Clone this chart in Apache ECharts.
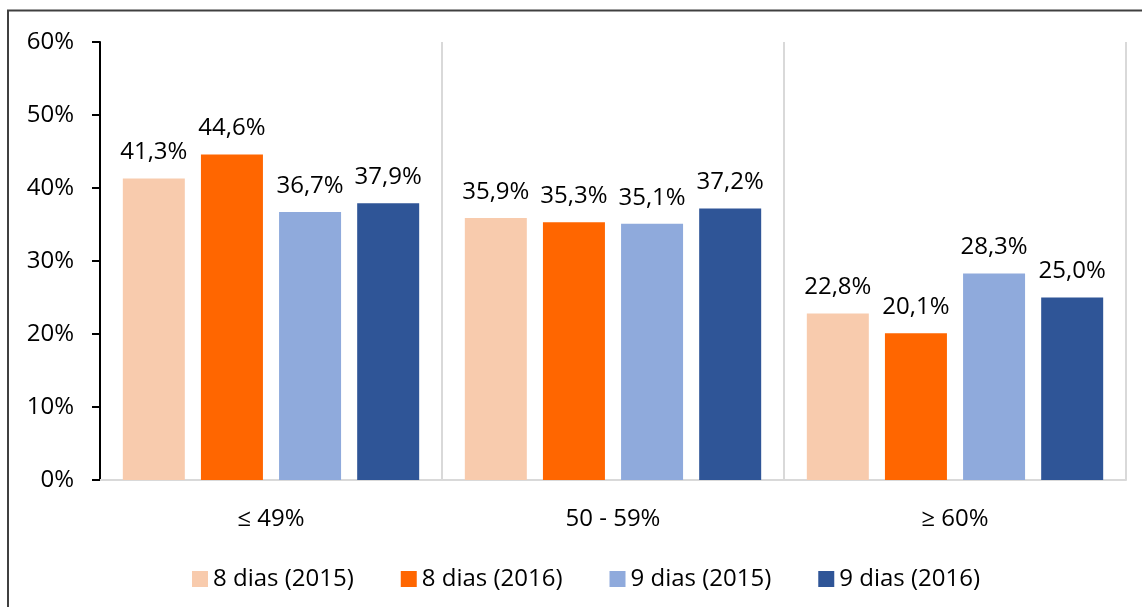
<!DOCTYPE html>
<html><head><meta charset="utf-8">
<script src="https://cdn.jsdelivr.net/npm/echarts@6/dist/echarts.min.js"></script>
<style>html,body{margin:0;padding:0;background:#fff}#c{width:1142px;height:607px}</style>
</head><body><div id="c"></div>
<script>
const categories = ['≤ 49%', '50 - 59%', '≥ 60%'];
const seriesNames = ['8 dias (2015)', '8 dias (2016)', '9 dias (2015)', '9 dias (2016)'];
const s8_2015 = [41.3, 35.9, 22.8];
const s8_2016 = [44.6, 35.3, 20.1];
const s9_2015 = [36.7, 35.1, 28.3];
const s9_2016 = [37.9, 37.2, 25.0];
const yTicks = [0, 10, 20, 30, 40, 50, 60];
const colors = ['#F8CBAD', '#FF6600', '#8FAADC', '#2F5597'];
const FONT = '"Open Sans", "Noto Sans", sans-serif';
const allData = [s8_2015, s8_2016, s9_2015, s9_2016];

const chart = echarts.init(document.getElementById('c'), null, {renderer: 'canvas'});
chart.setOption({
  animation: false,
  textStyle: {fontFamily: FONT},
  graphic: [{
    type: 'rect', silent: true,
    shape: {x: 8, y: 10.5, width: 1200, height: 700},
    style: {fill: 'none', stroke: '#404040', lineWidth: 2}
  }],
  grid: {left: 100, right: 16, top: 42, bottom: 127},
  legend: {
    top: 562, left: 187,
    itemWidth: 16, itemHeight: 16, itemGap: 47,
    icon: 'rect',
    textStyle: {fontSize: 24, color: '#000', fontFamily: FONT},
    data: seriesNames
  },
  xAxis: {
    type: 'category', data: categories,
    axisLine: {show: true, lineStyle: {color: '#d9d9d9', width: 2}},
    axisTick: {show: false},
    splitLine: {show: true, interval: 0, lineStyle: {color: '#d9d9d9', width: 2}},
    axisLabel: {fontSize: 24, color: '#000', margin: 27, fontFamily: FONT}
  },
  yAxis: {
    type: 'value', min: 0, max: 60, interval: 10,
    axisLine: {show: true, lineStyle: {color: '#000', width: 2}},
    axisTick: {show: true, inside: false, length: 8, lineStyle: {color: '#000', width: 2}},
    splitLine: {show: false},
    axisLabel: {fontSize: 24, color: '#000', margin: 26, fontFamily: FONT,
      formatter: v => yTicks.includes(v) ? v + '%' : ''}
  },
  series: allData.map((d, i) => ({
    name: seriesNames[i], type: 'bar', data: d,
    barWidth: 62, barGap: '26%',
    itemStyle: {color: colors[i]},
    label: {show: true, position: 'top', distance: 14, fontSize: 24, color: '#000', fontFamily: FONT,
      formatter: p => p.value.toFixed(1).replace('.', ',') + '%'}
  }))
});
</script></body></html>
